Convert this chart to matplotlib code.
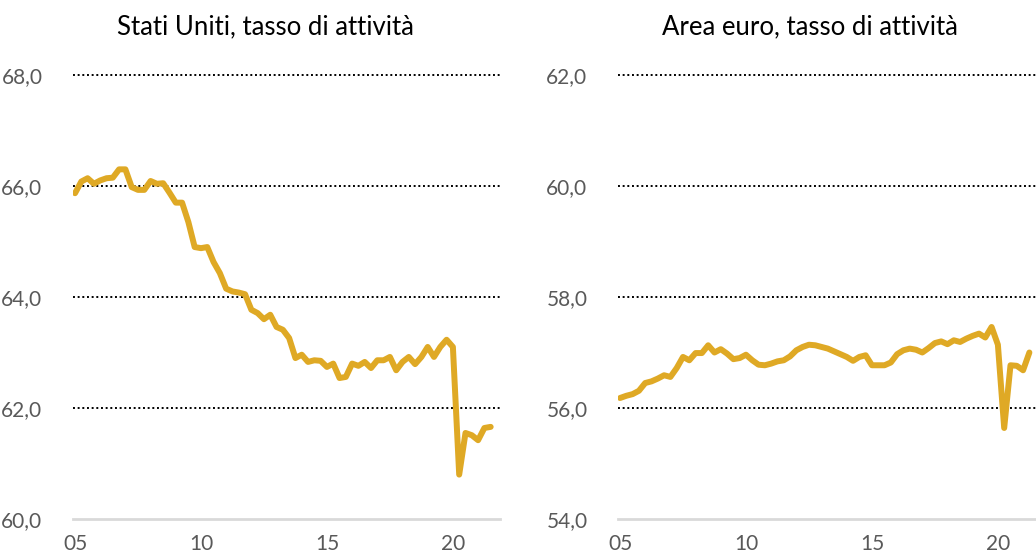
import matplotlib
matplotlib.use("Agg")
import matplotlib.pyplot as plt
import numpy as np
from matplotlib.ticker import FuncFormatter

plt.rcParams['font.family'] = ['Lato', 'DejaVu Sans']

# quarterly data, from 2005 Q1
us_values = [65.87, 66.08, 66.14, 66.04, 66.10, 66.14, 66.15, 66.30, 66.30, 65.98,
             65.93, 65.93, 66.09, 66.04, 66.05, 65.88, 65.70, 65.70, 65.35, 64.90,
             64.88, 64.90, 64.63, 64.43, 64.15, 64.10, 64.08, 64.05, 63.77, 63.71,
             63.60, 63.68, 63.46, 63.41, 63.26, 62.90, 62.96, 62.83, 62.86, 62.85,
             62.74, 62.80, 62.54, 62.56, 62.80, 62.76, 62.83, 62.72, 62.86, 62.86,
             62.92, 62.68, 62.83, 62.92, 62.79, 62.92, 63.10, 62.92, 63.10, 63.23,
             63.10, 60.80, 61.55, 61.51, 61.42, 61.64, 61.66]
ea_values = [56.18, 56.22, 56.25, 56.31, 56.45, 56.48, 56.53, 56.59, 56.56, 56.72,
             56.92, 56.86, 56.99, 56.99, 57.13, 57.00, 57.06, 56.98, 56.88, 56.90,
             56.96, 56.86, 56.78, 56.77, 56.80, 56.84, 56.86, 56.93, 57.04, 57.10,
             57.14, 57.13, 57.10, 57.07, 57.02, 56.97, 56.92, 56.85, 56.92, 56.95,
             56.77, 56.77, 56.77, 56.82, 56.97, 57.04, 57.07, 57.05, 57.00, 57.08,
             57.17, 57.20, 57.15, 57.22, 57.19, 57.25, 57.30, 57.34, 57.27, 57.46,
             57.14, 55.64, 56.77, 56.76, 56.68, 57.00]

us_x = 2005 + np.arange(len(us_values)) / 4
ea_x = 2005 + np.arange(len(ea_values)) / 4

tick_years = [2005, 2010, 2015, 2020]
tick_labels = ["05", "10", "15", "20"]

titles = ["Stati Uniti, tasso di attività", "Area euro, tasso di attività"]
ylims = [(60, 68), (54, 62)]

line_color = "#DFA925"
text_grey = "#595959"

fig = plt.figure(figsize=(10.36, 5.56), dpi=100)

panels = [
    (us_x, us_values, 73 / 1036, 265 / 1036),
    (ea_x, ea_values, 618 / 1036, 810 / 1036),
]

for k, (x, y, left, title_x) in enumerate(panels):
    ax = fig.add_axes([left, 37 / 556, 427 / 1036, 444 / 556])
    ax.plot(x, y, color=line_color, lw=4.3, solid_joinstyle='round',
            solid_capstyle='round', zorder=3)
    ax.set_xlim(2004.92, 2021.87)
    lo, hi = ylims[k]
    ax.set_ylim(lo, hi)
    ax.set_yticks(np.arange(lo, hi + 0.1, 2))
    ax.yaxis.set_major_formatter(FuncFormatter(lambda v, p: f"{v:.1f}".replace(".", ",")))
    ax.set_xticks(tick_years)
    ax.set_xticklabels(tick_labels)
    ax.tick_params(axis='both', length=0, labelsize=15, labelcolor=text_grey)
    ax.tick_params(axis='y', pad=22)
    ax.tick_params(axis='x', pad=11)
    for s in ['top', 'right', 'left']:
        ax.spines[s].set_visible(False)
    ax.spines['bottom'].set_color("#d9d9d9")
    ax.spines['bottom'].set_linewidth(2)
    ax.grid(axis='y', color='black', linestyle=(0, (1, 1.4)), linewidth=1.4)
    ax.set_axisbelow(True)
    gls = ax.get_ygridlines()
    gls[0].set_visible(False)
    for gl in gls:
        gl.set_clip_on(False)
    fig.text(title_x, 1 - 27 / 556, titles[k], ha='center', va='center',
             fontsize=18.5, color='black')

fig.savefig("out.png", dpi=100)
